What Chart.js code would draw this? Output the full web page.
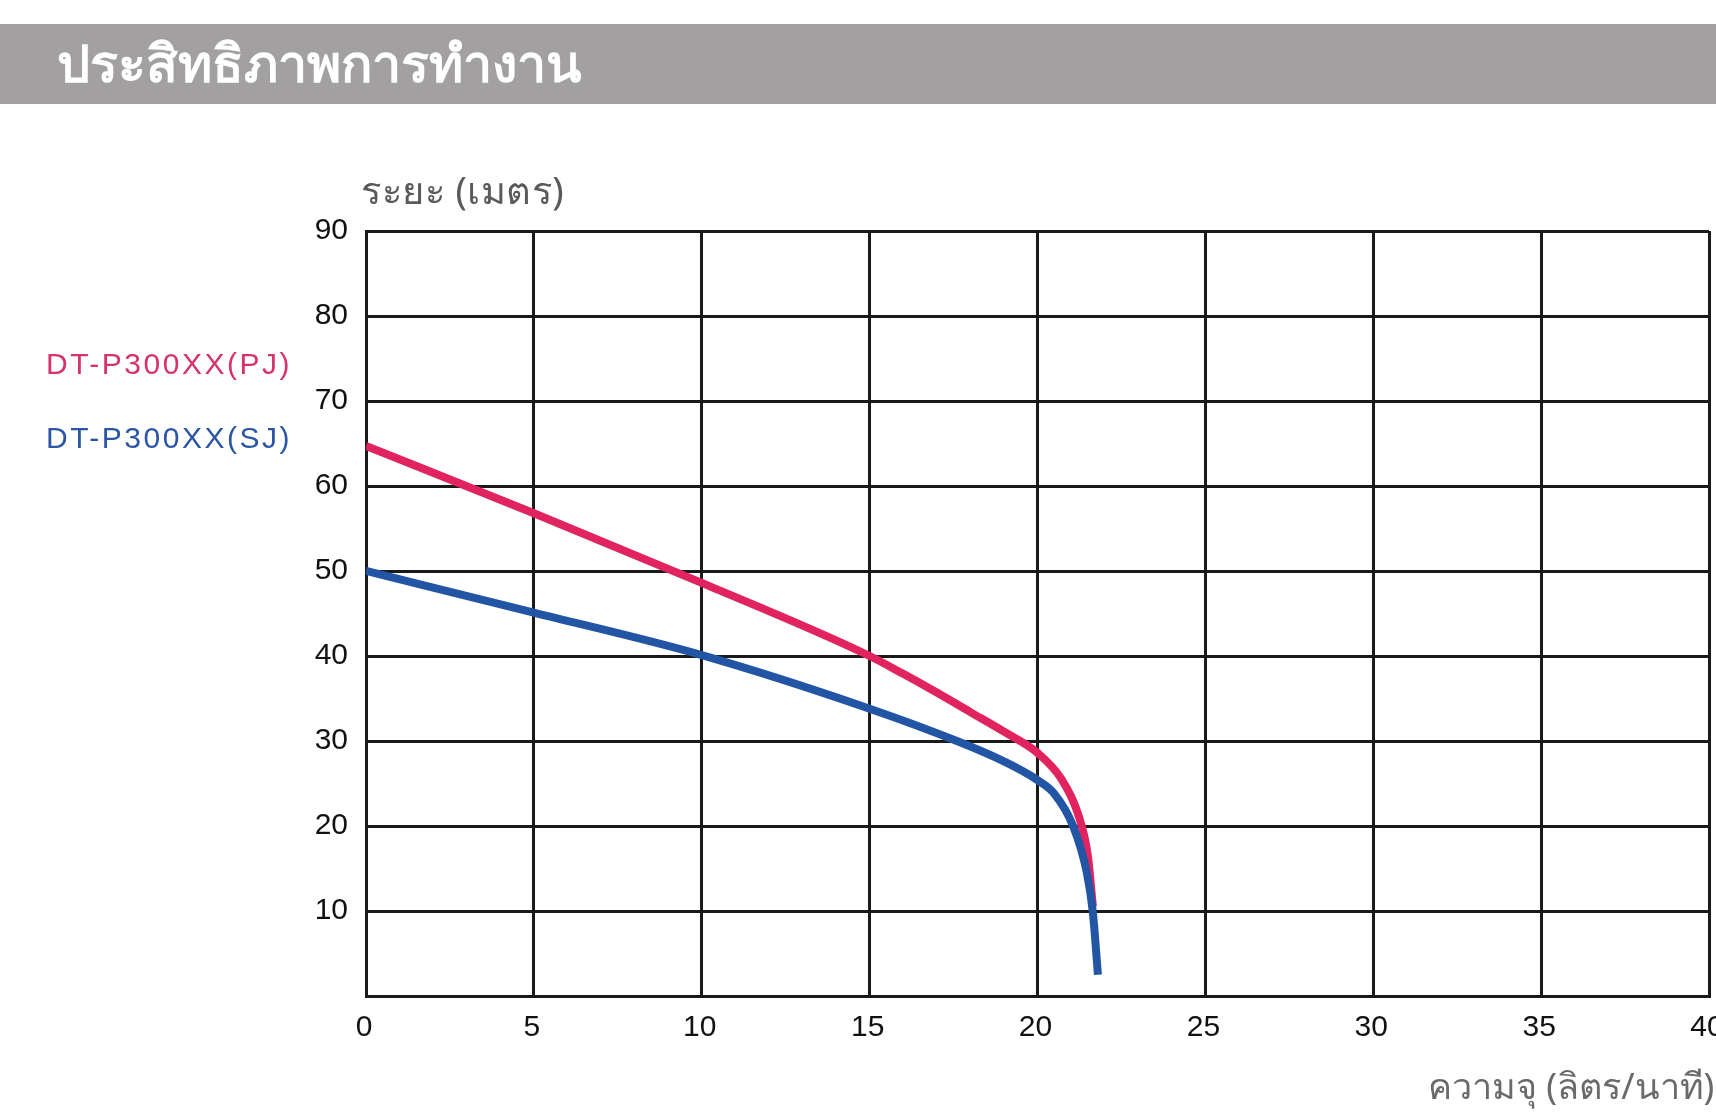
<!DOCTYPE html>
<html>
<head>
<meta charset="utf-8">
<script src="https://cdn.jsdelivr.net/npm/chart.js@4.4.1/dist/chart.umd.min.js"></script>
<style>
  html, body { margin:0; padding:0; background:#fff; }
  #wrap { position:relative; width:1716px; height:1113px; overflow:hidden; }
  #chart { position:absolute; left:0; top:0; }
  .bar { position:absolute; left:0; top:24px; width:1716px; height:80px; background:#a2a0a0; }
  .bar span { position:absolute; left:57px; top:-2px; color:#fff; font:bold 52px "Noto Sans", sans-serif; white-space:nowrap; }
  .txt { position:absolute; white-space:nowrap; }
  #ytitle { left:361px; top:160px; color:#5a5a5a; font:38px "Noto Sans", sans-serif; letter-spacing:0.5px; }
  #xtitle { left:1428px; top:1058px; color:#6a6a6a; font:36px "Noto Sans", sans-serif; }
  .leg { left:46px; font:30px "Liberation Sans", Arial, sans-serif; letter-spacing:2.5px; }
  #legPJ { top:347px; color:#d6336b; }
  #legSJ { top:421px; color:#2b56a3; }
</style>
</head>
<body>
<div id="wrap">
  <div class="bar"><span>ประสิทธิภาพการทำงาน</span></div>
  <canvas id="chart" width="1716" height="1113"></canvas>
  <div class="txt" id="ytitle">ระยะ (เมตร)</div>
  <div class="txt" id="xtitle">ความจุ (ลิตร/นาที)</div>
  <div class="txt leg" id="legPJ">DT-P300XX(PJ)</div>
  <div class="txt leg" id="legSJ">DT-P300XX(SJ)</div>
</div>
<script>
// flow (L/min) vs head (m)
const flowPJ = [0, 5, 10, 15, 16, 17, 18, 19, 20, 20.7, 21.2, 21.5, 21.65];
const headPJ = [64.7, 56.8, 48.6, 40, 37.9, 35.7, 33.4, 31.1, 28.6, 25.6, 21.5, 16.5, 10.5];
const flowSJ = [0, 5, 10, 15, 17.6, 19, 20, 20.5, 21.06, 21.47, 21.65, 21.8];
const headSJ = [50, 45.1, 40.1, 33.8, 30, 27.6, 25.4, 23.8, 20, 14.5, 9.8, 2.5];

const xTicks = [0, 5, 10, 15, 20, 25, 30, 35, 40];
const yTicks = [10, 20, 30, 40, 50, 60, 70, 80, 90];

function pts(xs, ys) {
  return xs.map((x, i) => ({ x: x, y: ys[i] }));
}

const gridColor = '#1a1a1a';
const tickFont = { family: '"Liberation Sans", Arial, sans-serif', size: 30 };

new Chart(document.getElementById('chart'), {
  type: 'line',
  data: {
    datasets: [
      {
        label: 'DT-P300XX(PJ)',
        data: pts(flowPJ, headPJ),
        borderColor: '#e1245f',
        borderWidth: 8,
        pointRadius: 0,
        cubicInterpolationMode: 'monotone',
        borderCapStyle: 'butt',
        order: 1
      },
      {
        label: 'DT-P300XX(SJ)',
        data: pts(flowSJ, headSJ),
        borderColor: '#2256a5',
        borderWidth: 8,
        pointRadius: 0,
        cubicInterpolationMode: 'monotone',
        borderCapStyle: 'butt',
        order: 0
      }
    ]
  },
  options: {
    responsive: false,
    animation: false,
    layout: { padding: { left: 0, top: 231, right: 7, bottom: 0 } },
    plugins: { legend: { display: false }, tooltip: { enabled: false } },
    scales: {
      x: {
        type: 'linear',
        min: 0, max: 40,
        afterBuildTicks: (s) => { s.ticks = xTicks.map(v => ({ value: v })); },
        afterFit: (s) => { s.height = 117; s.paddingLeft = 0; s.paddingRight = 0; },
        grid: { color: gridColor, lineWidth: 3, drawTicks: false },
        border: { color: gridColor, width: 3 },
        ticks: { color: '#111', font: tickFont, padding: 14, labelOffset: -2, maxRotation: 0 }
      },
      y: {
        type: 'linear',
        min: 0, max: 90,
        afterBuildTicks: (s) => { s.ticks = [0].concat(yTicks).map(v => ({ value: v })); },
        afterFit: (s) => { s.width = 366; },
        grid: { color: gridColor, lineWidth: 3, drawTicks: false },
        border: { color: gridColor, width: 3 },
        ticks: {
          color: '#111', font: tickFont, padding: 18,
          callback: (v) => (v === 0 ? '' : v)
        }
      }
    }
  }
});
</script>
</body>
</html>
